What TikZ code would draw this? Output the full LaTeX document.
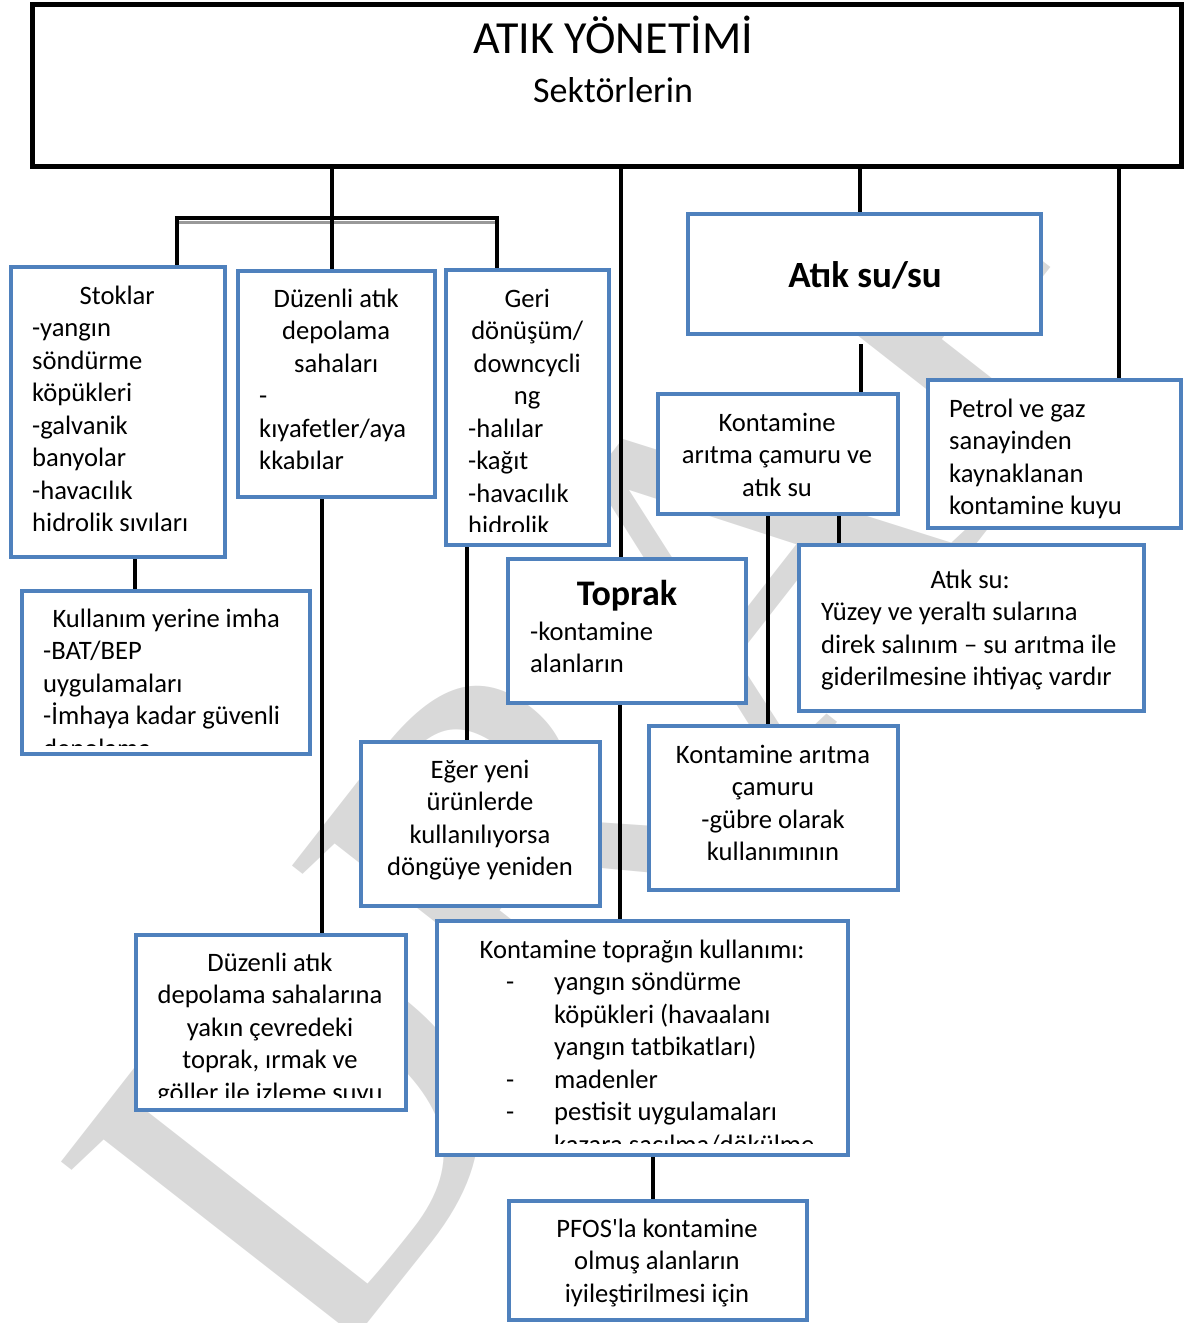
\documentclass[tikz,border=0pt]{standalone}
\usepackage{fontspec}
\setmainfont{Carlito}
\newfontfamily\nolig{Carlito}
\newfontfamily\wmfont{Liberation Serif}
\usetikzlibrary{fit}
\pgfdeclarelayer{wmlayer}
\pgfdeclarelayer{conlayer}
\pgfsetlayers{wmlayer,conlayer,main}
\definecolor{boxblue}{HTML}{4F81BD}
\definecolor{wmgray}{HTML}{D9D9D9}
\newcommand\Lc[1]{\hbox to\hsize{\hss#1\hss}}
\newcommand\Lf[1]{\hbox to\hsize{#1\hss}}
\newcommand\Li[2]{\hbox to\hsize{\hbox to 48pt{#1\hss}#2\hss}}
\newcommand\blk[2]{\vtop{\hsize=#1pt\relax#2}}
\begin{document}
\begin{tikzpicture}[x=1pt,y=-1pt,
  bluebox/.style={draw=boxblue,line width=4.5pt,fill=white,inner sep=0pt},
  blackbox/.style={draw=black,line width=5pt,fill=white,inner sep=0pt},
  conn/.style={line width=4.5pt,draw=black},
  shadowline/.style={line width=3.5pt,draw=black!40},
  txt/.style={inner sep=0pt,font=\fontsize{26.6}{32.5}\selectfont},
  head/.style={inner sep=0pt,font=\bfseries\fontsize{37}{44}\selectfont},
  wm/.style={inner sep=0pt,text=wmgray,font=\wmfont\fontsize{520}{520}\selectfont}]
\useasboundingbox (0,0) rectangle (1184,1323);

% watermark
\begin{pgfonlayer}{wmlayer}
\begin{scope}
\clip (0,213) rectangle (1184,1323);
\node[wm,rotate=52,anchor=north west] (wm) at (50,1172) {DRAFT};
\end{scope}
\end{pgfonlayer}

% boxes
\node[blackbox,fit={(32.5,4.5)(1181,166.5)}] (top) {};
\node[bluebox,fit={(11,267)(225,557)}] (stok) {};
\node[bluebox,fit={(238,271)(435,497)}] (duz1) {};
\node[bluebox,fit={(446,270)(609,545)}] (geri) {};
\node[bluebox,fit={(688,214)(1041,334)}] (atiksusu) {};
\node[bluebox,fit={(658,394)(898,514)}] (kontatik) {};
\node[bluebox,fit={(928,380)(1181,528)}] (petrol) {};
\node[bluebox,fit={(22,591)(310,754)}] (kull) {};
\node[bluebox,fit={(508,559)(746,703)}] (toprak) {};
\node[bluebox,fit={(799,545)(1144,711)}] (atiksu) {};
\node[bluebox,fit={(361,742)(600,906)}] (eger) {};
\node[bluebox,fit={(649,726)(898,890)}] (kontcam) {};
\node[bluebox,fit={(136,935)(406,1110)}] (duz2) {};
\node[bluebox,fit={(437,921)(848,1155)}] (kontop) {};
\node[bluebox,fit={(509,1201)(807,1320)}] (pfos) {};

% connectors
\begin{pgfonlayer}{conlayer}
\coordinate (jL) at (177,218);
\coordinate (jM) at (332,218);
\coordinate (jR) at (497,218);
\draw[conn] (top.south -| jM) -- (jM);
\draw[shadowline] ([yshift=-4.5pt]jL) -- ([yshift=-4.5pt]jR);
\draw[conn] ([xshift=-2.25pt]jL) -- ([xshift=2.25pt]jR);
\draw[conn] (jL) -- (stok.north -| jL);
\draw[conn] (jM) -- (duz1.north -| jM);
\draw[conn] (jR) -- (geri.north -| jR);
\draw[conn] (top.south -| 621,0) -- (toprak.north -| 621,0);
\draw[conn] (top.south -| 860,0) -- (atiksusu.north -| 860,0);
\draw[conn] (top.south -| 1119,0) -- (petrol.north -| 1119,0);
\draw[conn,shorten <=8pt] (atiksusu.south -| 861,0) -- (kontatik.north -| 861,0);
\draw[conn] (stok.south -| 135,0) -- (kull.north -| 135,0);
\draw[conn] (duz1.south -| 322,0) -- (duz2.north -| 322,0);
\draw[conn] (geri.south -| 467,0) -- (eger.north -| 467,0);
\draw[conn] (toprak.south -| 620,0) -- (kontop.north -| 620,0);
\draw[conn] (kontatik.south -| 768,0) -- (kontcam.north -| 768,0);
\draw[conn] (kontatik.south -| 839,0) -- (atiksu.north -| 839,0);
\draw[conn] (kontop.south -| 653,0) -- (pfos.north -| 653,0);
\end{pgfonlayer}

% texts
\node[inner sep=0pt,font=\fontsize{46}{55}\selectfont,anchor=base] (t0a) at (613,53.5) {ATIK YÖNETİMİ};
\node[inner sep=0pt,font=\fontsize{36}{44}\selectfont,anchor=base] (t0b) at (613,102) {Sektörlerin};

\node[txt,anchor=base west] (t1) at (32,304) {\blk{170}{\Lc{Stoklar}\Lf{-yangın}\Lf{söndürme}\Lf{köpükleri}\Lf{-galvanik}\Lf{banyolar}\Lf{-havacılık}\Lf{hidrolik sıvıları}}};

\node[txt,anchor=base west] (t2) at (259,307) {\blk{154}{\Lc{Düzenli atık}\Lc{depolama}\Lc{sahaları}\Lf{-}\Lf{kıyafetler/aya}\Lf{kkabılar}}};

\begin{scope}
\clip (448,272) rectangle (607,531);
\node[txt,anchor=base west] (t3) at (468,307) {\blk{118}{\Lc{Geri}\Lc{dönüşüm/}\Lc{downcycli}\Lc{ng}\Lf{-halılar}\Lf{-kağıt}\Lf{-havacılık}\Lf{hidrolik}}};
\end{scope}

\node[head,anchor=base] (t4) at (865,287) {Atık su/su};

\node[txt,anchor=base] (t5) at (777,431) {\blk{236}{\Lc{Kontamine}\Lc{arıtma çamuru ve}\Lc{atık su}}};

\begin{scope}
\clip (930,382) rectangle (1179,518);
\node[txt,anchor=base west] (t6) at (949,417) {\blk{225}{\Lf{Petrol ve gaz}\Lf{sanayinden}\Lf{kaynaklanan}\Lf{kontamine kuyu}}};
\end{scope}

\begin{scope}
\clip (24,593) rectangle (308,745);
\node[txt,anchor=base west] (t7) at (43,627) {\blk{246}{\Lc{Kullanım yerine imha}\Lf{-BAT/BEP}\Lf{uygulamaları}\Lf{-İmhaya kadar güvenli}\Lf{depolama}}};
\end{scope}

\node[head,font=\bfseries\fontsize{36}{44}\selectfont,anchor=base] (t8a) at (627,605) {Toprak};
\node[txt,anchor=base west] (t8b) at (530,640) {\blk{200}{\Lf{-kontamine}\Lf{alanların}}};

\node[txt,anchor=base west] (t9) at (821,588) {\blk{298}{\Lc{Atık su:}\Lf{Yüzey ve yeraltı sularına}\Lf{direk salınım – su arıtma ile}\Lf{giderilmesine ihtiyaç vardır}}};

\node[txt,anchor=base] (t10) at (480,778) {\blk{230}{\Lc{Eğer yeni}\Lc{ürünlerde}\Lc{kullanılıyorsa}\Lc{döngüye yeniden}}};

\node[txt,anchor=base] (t11) at (773,763) {\blk{240}{\Lc{Kontamine arıtma}\Lc{çamuru}\Lc{-gübre olarak}\Lc{kullanımının}}};

\begin{scope}
\clip (138,937) rectangle (404,1097);
\node[txt,anchor=base] (t12) at (270,971) {\blk{266}{\Lc{Düzenli atık}\Lc{depolama sahalarına}\Lc{yakın çevredeki}\Lc{toprak, ırmak ve}\Lc{göller ile izleme suyu}}};
\end{scope}

\begin{scope}
\clip (439,923) rectangle (846,1143);
\node[txt,anchor=base west] (t13) at (506,958) {\blk{272}{\Lc{Kontamine toprağın kullanımı:}\Li{-}{yangın söndürme}\Li{}{köpükleri (havaalanı}\Li{}{yangın tatbikatları)}\Li{-}{madenler}\Li{-}{pestisit uygulamaları}\Li{-}{kazara saçılma/dökülme}}};
\end{scope}

\node[txt,anchor=base] (t14) at (657,1237) {\blk{290}{\Lc{{\nolig PFOS'la} kontamine}\Lc{olmuş alanların}\Lc{iyileştirilmesi için}}};
\end{tikzpicture}
\end{document}
